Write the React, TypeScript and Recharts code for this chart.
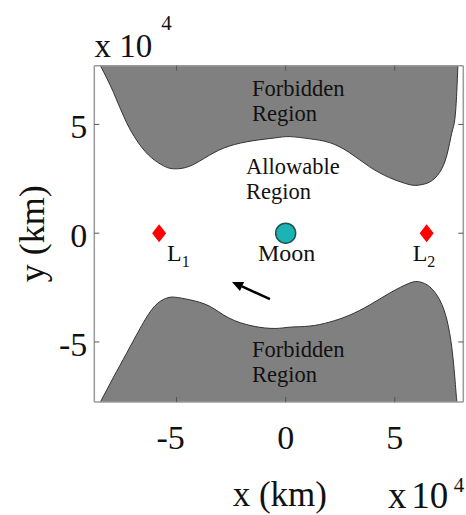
import React from 'react';
import { ComposedChart, Area, Scatter, XAxis, YAxis, ReferenceLine } from 'recharts';

// Zero-velocity curve samples (x in units of 10^4 km)
const xSamples = [-8.49, -7.89, -7.29, -6.6, -6.0, -5.5, -5.1, -4.4, -3.5, -2.6, -1.5, -0.5, 0.2, 1.1, 2.0, 2.9, 3.85, 4.77, 5.69, 6.15, 6.6, 7.06, 7.39, 7.61, 7.75, 7.84, 7.89];
const upperBoundary = [7.7, 6.47, 5.08, 3.95, 3.35, 3.05, 2.96, 3.08, 3.58, 4.0, 4.25, 4.38, 4.44, 4.34, 4.17, 3.72, 3.05, 2.55, 2.23, 2.22, 2.35, 2.8, 3.6, 4.6, 5.22, 6.46, 7.7];
const lowerBoundary = [-7.76, -6.62, -5.52, -4.25, -3.35, -3.0, -2.94, -3.06, -3.35, -3.9, -4.27, -4.38, -4.32, -4.27, -4.09, -3.78, -3.3, -2.75, -2.29, -2.24, -2.46, -3.07, -3.99, -5.23, -6.62, -7.68, -7.76];

// Libration points and the Moon
const lagrangeNames = ['1', '2'];
const lagrangeX = [-5.8, 6.46];
const lagrangeY = [0, 0];
const moonX = [0];
const moonY = [0];

// Region captions
const captionLines = [['Forbidden', 'Region'], ['Allowable', 'Region'], ['Forbidden', 'Region']];
const captionX = [-1.54, -1.82, -1.54];
const captionY = [6.31, 2.72, -5.69];

// Direction-of-motion arrow (tail -> tip)
const arrowTail = { x: -0.72, y: -3.03 };
const arrowTip = { x: -2.46, y: -2.24 };

const xTicks = [-5, 0, 5];
const yTicks = [-5, 0, 5];
const X_DOMAIN: [number, number] = [-8.77, 8.14];
const Y_DOMAIN: [number, number] = [-7.76, 7.7];

const tableData = xSamples.map((x, i) => ({ x, upper: upperBoundary[i], lower: lowerBoundary[i] }));
const lagrangeData = lagrangeX.map((x, i) => ({ x, y: lagrangeY[i], name: lagrangeNames[i] }));
const moonData = moonX.map((x, i) => ({ x, y: moonY[i] }));
const captionData = captionX.map((x, i) => ({ x, y: captionY[i], lines: captionLines[i] }));

const FONT = "'Liberation Serif', 'Times New Roman', Times, serif";
const TEXT = '#111';
const FRAME = '#9a9a9a';
const TICK = '#555';
const REGION_FILL = '#808080';
const REGION_STROKE = '#333';

const BottomTick = (p: any) => (
  <g>
    <line x1={p.x} y1={p.y} x2={p.x} y2={p.y - 5} stroke={TICK} />
    <text
      x={p.x + (p.payload.value < 0 ? -6 : 0)}
      y={p.y + 47}
      textAnchor="middle"
      fontFamily={FONT}
      fontSize={34}
      fill={TEXT}
    >
      {p.payload.value}
    </text>
  </g>
);
const TopTick = (p: any) => <line x1={p.x} y1={p.y} x2={p.x} y2={p.y + 5} stroke={TICK} />;
const LeftTick = (p: any) => (
  <g>
    <line x1={p.x} y1={p.y} x2={p.x + 5} y2={p.y} stroke={TICK} />
    <text x={p.x - 7} y={p.y + 14} textAnchor="end" fontFamily={FONT} fontSize={34} fill={TEXT}>
      {p.payload.value}
    </text>
  </g>
);
const RightTick = (p: any) => <line x1={p.x} y1={p.y} x2={p.x - 5} y2={p.y} stroke={TICK} />;

const TopExponent = (p: any) => {
  const vb = p.viewBox;
  const top = vb.y + vb.height;
  return (
    <g fontFamily={FONT} fill={TEXT}>
      <text x={vb.x + 0.2} y={top - 8.7} fontSize={33}>x</text>
      <text x={vb.x + 25} y={top - 8.7} fontSize={33}>10</text>
      <text x={vb.x + 67} y={top - 35.7} fontSize={21}>4</text>
    </g>
  );
};

const BottomLabels = (p: any) => {
  const vb = p.viewBox;
  const right = vb.x + vb.width;
  return (
    <g fontFamily={FONT} fill={TEXT}>
      <text x={vb.x + vb.width / 2 + 1} y={vb.y + 104} textAnchor="middle" fontSize={35}>x (km)</text>
      <text x={right - 75.3} y={vb.y + 106} fontSize={37}>x</text>
      <text x={right - 52} y={vb.y + 106} fontSize={37}>10</text>
      <text x={right - 9.5} y={vb.y + 90} fontSize={21}>4</text>
    </g>
  );
};

const LeftLabel = (p: any) => {
  const vb = p.viewBox;
  const cx = vb.x + 9.7;
  const cy = vb.y + vb.height / 2;
  return (
    <text x={cx} y={cy} transform={`rotate(-90 ${cx} ${cy})`} textAnchor="middle" fontFamily={FONT} fontSize={36} fill={TEXT}>
      y (km)
    </text>
  );
};

const LagrangeMark = (p: any) => {
  const { cx, cy, payload } = p;
  const dx = payload.name === '1' ? 8 : -14;
  return (
    <g>
      <polygon points={`${cx},${cy - 9} ${cx + 7},${cy} ${cx},${cy + 9} ${cx - 7},${cy}`} fill="#ff0000" />
      <text x={cx + dx} y={cy + 28} fontFamily={FONT} fontSize={24} fill={TEXT}>
        L<tspan fontSize={16} dy={6}>{payload.name}</tspan>
      </text>
    </g>
  );
};

const MoonMark = (p: any) => (
  <g>
    <circle cx={p.cx} cy={p.cy} r={10} fill="#1bb3b3" stroke="#1d5555" strokeWidth={1.5} />
    <text x={p.cx + 1} y={p.cy + 28} textAnchor="middle" fontFamily={FONT} fontSize={24} fill={TEXT}>
      Moon
    </text>
  </g>
);

const Caption = (p: any) => (
  <text x={p.cx} y={p.cy} fontFamily={FONT} fontSize={22.5} fill={TEXT}>
    {p.payload.lines.map((line: string, i: number) => (
      <tspan key={i} x={p.cx} dy={i === 0 ? 0 : 25}>
        {line}
      </tspan>
    ))}
  </text>
);

const ArrowShape = (p: any) => {
  const { x1, y1, x2, y2 } = p;
  if ([x1, y1, x2, y2].some((v) => typeof v !== 'number' || isNaN(v))) return null;
  const ang = Math.atan2(y2 - y1, x2 - x1);
  const len = 11;
  const half = 5;
  const bx = x2 - len * Math.cos(ang);
  const by = y2 - len * Math.sin(ang);
  const nx = -Math.sin(ang);
  const ny = Math.cos(ang);
  return (
    <g>
      <line x1={x1} y1={y1} x2={bx} y2={by} stroke="#000" strokeWidth={2.5} />
      <polygon points={`${x2},${y2} ${bx + nx * half},${by + ny * half} ${bx - nx * half},${by - ny * half}`} fill="#000" />
    </g>
  );
};

export default function App() {
  return (
    <div style={{ position: 'absolute', left: 0, top: 0, width: 466, height: 515, overflow: 'hidden' }}>
      <ComposedChart
        width={466}
        height={515}
        data={tableData}
        margin={{ top: 64.7, right: 1.7, bottom: 73, left: 34.3 }}
      >
        <XAxis
          dataKey="x"
          type="number"
          domain={X_DOMAIN}
          allowDataOverflow
          ticks={xTicks}
          height={40}
          tickSize={0}
          tickMargin={0}
          tickLine={false}
          axisLine={{ stroke: FRAME, strokeWidth: 1.5 }}
          tick={<BottomTick />}
          label={<BottomLabels />}
        />
        <XAxis
          xAxisId="top"
          dataKey="x"
          type="number"
          orientation="top"
          domain={X_DOMAIN}
          allowDataOverflow
          ticks={xTicks}
          height={1}
          tickSize={0}
          tickMargin={0}
          tickLine={false}
          axisLine={{ stroke: FRAME, strokeWidth: 1.5 }}
          tick={<TopTick />}
          label={<TopExponent />}
        />
        <YAxis
          dataKey="y"
          type="number"
          domain={Y_DOMAIN}
          allowDataOverflow
          ticks={yTicks}
          width={60}
          tickSize={0}
          tickMargin={0}
          tickLine={false}
          axisLine={{ stroke: FRAME, strokeWidth: 1.5 }}
          tick={<LeftTick />}
          label={<LeftLabel />}
        />
        <YAxis
          yAxisId="right"
          orientation="right"
          type="number"
          domain={Y_DOMAIN}
          allowDataOverflow
          ticks={yTicks}
          width={1}
          tickSize={0}
          tickMargin={0}
          tickLine={false}
          axisLine={{ stroke: FRAME, strokeWidth: 1.5 }}
          tick={<RightTick />}
        />
        <Area
          dataKey="upper"
          type="natural"
          baseValue={Y_DOMAIN[1]}
          fill={REGION_FILL}
          fillOpacity={1}
          stroke={REGION_STROKE}
          strokeWidth={1}
          isAnimationActive={false}
          dot={false}
          activeDot={false}
        />
        <Area
          dataKey="lower"
          type="natural"
          baseValue={Y_DOMAIN[0]}
          fill={REGION_FILL}
          fillOpacity={1}
          stroke={REGION_STROKE}
          strokeWidth={1}
          isAnimationActive={false}
          dot={false}
          activeDot={false}
        />
        <Scatter data={captionData} dataKey="y" shape={<Caption />} isAnimationActive={false} />
        <Scatter data={lagrangeData} dataKey="y" shape={<LagrangeMark />} isAnimationActive={false} />
        <Scatter data={moonData} dataKey="y" shape={<MoonMark />} isAnimationActive={false} />
        <ReferenceLine segment={[arrowTail, arrowTip]} shape={<ArrowShape />} ifOverflow="visible" />
      </ComposedChart>
    </div>
  );
}
